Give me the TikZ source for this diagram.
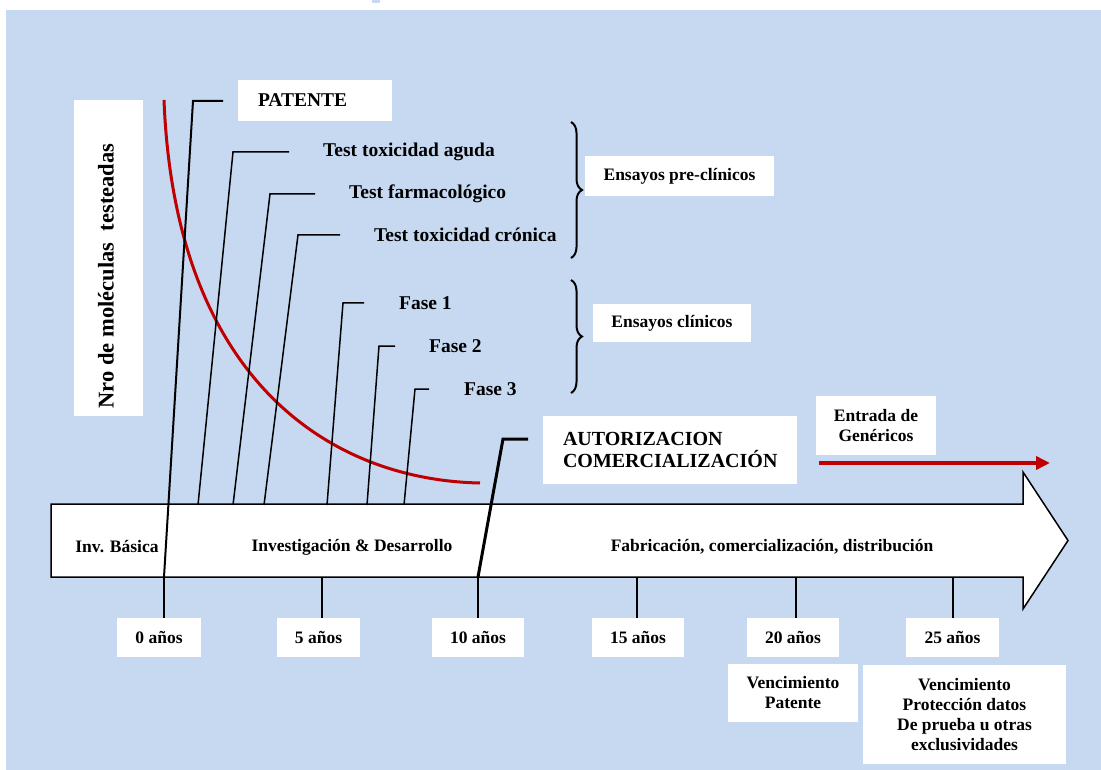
\documentclass[tikz,border=0pt]{standalone}
\usepackage{fontspec}
\setmainfont{Liberation Serif}
\usetikzlibrary{decorations.pathreplacing,arrows.meta}
\definecolor{bgblue}{HTML}{C6D9F1}
\definecolor{dkred}{HTML}{C00000}
\newcommand\fntS{\bfseries\fontsize{17.5}{20}\selectfont}
\newcommand\fntM{\bfseries\fontsize{19.5}{22}\selectfont}
\newcommand\fntL{\bfseries\fontsize{20}{22}\selectfont}
\newcommand\fntV{\bfseries\fontsize{22.5}{24}\selectfont}
\begin{document}
\begin{tikzpicture}[x=1pt,y=-1pt,
  wbox/.style={fill=white, inner sep=0pt, align=center, font=\fntS},
  lbl/.style={inner sep=0pt, anchor=west, font=\fntM},
  atext/.style={inner sep=0pt, font=\fntS},
  leader/.style={draw=black, line width=1.5pt},
  tick/.style={draw=black, line width=1.5pt},
  bracestyle/.style={draw=black, line width=2pt, decorate, decoration={brace, amplitude=11pt, aspect=0.5}},
  redcurve/.style={draw=dkred, line width=3pt},
  redarrow/.style={draw=dkred, line width=3.5pt, -{Triangle[length=14pt,width=13pt]}}
]
\useasboundingbox (0,0) rectangle (1101,770);
% background
\fill[bgblue] (6,10) rectangle (1101,770);
\fill[bgblue] (372,0) rectangle (380,3);

% big timeline arrow
\path[draw=black, fill=white, line width=1.5pt, line join=miter]
  (51,504) -- (1023,504) -- (1023,472) -- (1068,540.5) -- (1023,609) -- (1023,577) -- (51,577) -- cycle;
\node[atext] (inv) at (117,547) {Inv. Básica};
\node[atext] (id) at (352,547) {Investigación \& Desarrollo};
\node[atext] (fab) at (772,547) {Fabricación, comercialización, distribución};

% vertical label
\node[wbox, minimum width=69pt, minimum height=316pt] (nrobox) at (108.5,258) {};
\node[inner sep=0pt, rotate=90, font=\fntV] (nro) at (106,276) {Nro de moléculas\ \ testeadas};

% red decreasing curve
\coordinate (c0) at (164,100);
\coordinate (c1) at (480,483);
\draw[redcurve] (c0) .. controls (175,380) and (330,480) .. (c1);

% year boxes
\node[wbox, minimum width=84pt, minimum height=39pt] (y0) at (159,637.5) {0 años};
\node[wbox, minimum width=83pt, minimum height=39pt] (y5) at (318.5,637.5) {5 años};
\node[wbox, minimum width=92pt, minimum height=39pt] (y10) at (478,637.5) {10 años};
\node[wbox, minimum width=92pt, minimum height=39pt] (y15) at (638,637.5) {15 años};
\node[wbox, minimum width=92pt, minimum height=39pt] (y20) at (793,637.5) {20 años};
\node[wbox, minimum width=93pt, minimum height=39pt] (y25) at (952.5,637.5) {25 años};

% ticks
\coordinate (b0) at (164,577);
\coordinate (b5) at (322,577);
\coordinate (b10) at (478,577);
\coordinate (b15) at (637,577);
\coordinate (b20) at (796,577);
\coordinate (b25) at (953,577);
\draw[tick] (b0) -- (b0 |- y0.north);
\draw[tick] (b5) -- (b5 |- y5.north);
\draw[tick] (b10) -- (b10 |- y10.north);
\draw[tick] (b15) -- (b15 |- y15.north);
\draw[tick] (b20) -- (b20 |- y20.north);
\draw[tick] (b25) -- (b25 |- y25.north);

% expiry boxes
\node[wbox, minimum width=130pt, minimum height=58pt] (vpat) at (793,693) {Vencimiento\\Patente};
\node[wbox, minimum width=203pt, minimum height=99pt] (vprot) at (964.5,714.5) {Vencimiento\\Protección datos\\De prueba u otras\\exclusividades};

% PATENTE
\node[fill=white, inner xsep=20pt, inner ysep=0pt, text width=114pt, align=left, minimum height=41pt, font=\fntM] (pat) at (315,100.5) {PATENTE};
\coordinate (patc) at (193,101);
\coordinate (pate) at (223,101);
\draw[leader, line width=2pt] (b0) -- (patc) -- (pate);

% test labels
\node[lbl] (t1) at (323,152) {Test toxicidad aguda};
\node[lbl] (t2) at (349,194) {Test farmacológico};
\node[lbl] (t3) at (374,235) {Test toxicidad crónica};
\node[lbl] (f1) at (399,303) {Fase 1};
\node[lbl] (f2) at (429,346) {Fase 2};
\node[lbl] (f3) at (464,389) {Fase 3};

\coordinate (l1b) at (198,505); \coordinate (l1c) at (233,152); \coordinate (l1e) at (289,152);
\coordinate (l2b) at (233,505); \coordinate (l2c) at (270,194); \coordinate (l2e) at (315,194);
\coordinate (l3b) at (264,505); \coordinate (l3c) at (298,235); \coordinate (l3e) at (340,235);
\coordinate (l4b) at (327,505); \coordinate (l4c) at (343,303); \coordinate (l4e) at (364,303);
\coordinate (l5b) at (367,505); \coordinate (l5c) at (379,346); \coordinate (l5e) at (395,346);
\coordinate (l6b) at (404,505); \coordinate (l6c) at (415,389); \coordinate (l6e) at (429,389);
\draw[leader] (l1b) -- (l1c) -- (l1e);
\draw[leader] (l2b) -- (l2c) -- (l2e);
\draw[leader] (l3b) -- (l3c) -- (l3e);
\draw[leader] (l4b) -- (l4c) -- (l4e);
\draw[leader] (l5b) -- (l5c) -- (l5e);
\draw[leader] (l6b) -- (l6c) -- (l6e);

% braces
\coordinate (br1t) at (571,122); \coordinate (br1b) at (571,258);
\coordinate (br2t) at (571,280); \coordinate (br2b) at (571,393);
\draw[bracestyle] (br1t) -- (br1b);
\draw[bracestyle] (br2t) -- (br2b);
\node[wbox, minimum width=189pt, minimum height=40pt] (pre) at (679.5,176) {Ensayos pre-clínicos};
\node[wbox, minimum width=158pt, minimum height=38pt] (cli) at (672,323) {Ensayos clínicos};

% AUTORIZACION
\node[fill=white, inner xsep=20pt, inner ysep=0pt, text width=214pt, align=left, minimum height=68pt, font=\fntL] (aut) at (670,450) {AUTORIZACION\\COMERCIALIZACIÓN};
\coordinate (autc) at (503,439);
\coordinate (aute) at (528,439);
\draw[leader, line width=3pt] (b10) -- (autc) -- (aute);

% generics
\node[wbox, minimum width=120pt, minimum height=59pt] (gen) at (876,425.5) {Entrada de\\Genéricos};
\coordinate (ra0) at (819,463);
\coordinate (ra1) at (1050,463);
\draw[redarrow] (ra0) -- (ra1);
\end{tikzpicture}
\end{document}
